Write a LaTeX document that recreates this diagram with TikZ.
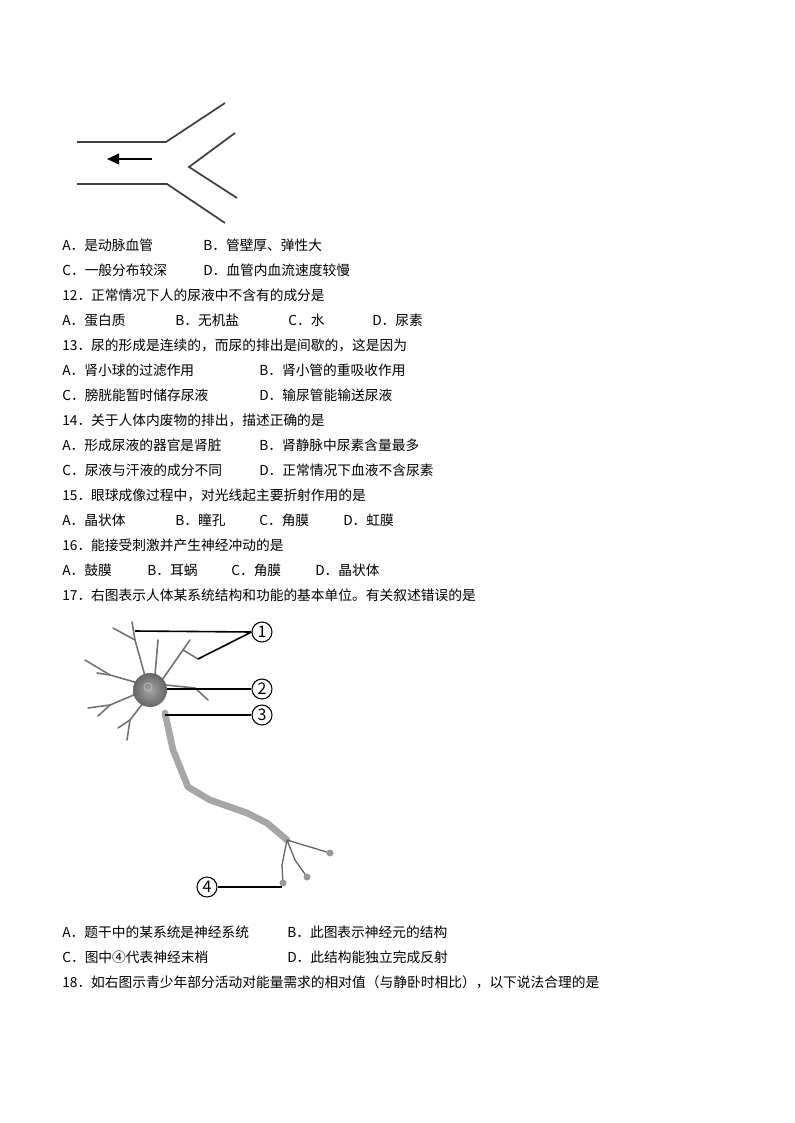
\documentclass[tikz,border=0pt]{standalone}
\usepackage{fontspec}
\setmainfont{Noto Sans CJK SC}
\usetikzlibrary{arrows.meta}
\begin{document}
\begin{tikzpicture}[x=0.75pt,y=-0.75pt,
  txt/.style={anchor=base west,inner sep=0pt,font=\fontsize{10.3}{12}\selectfont},
  num/.style={circle,draw,line width=0.8pt,inner sep=0pt,minimum size=15pt,font=\fontsize{12}{12}\selectfont},
  ln/.style={line width=1.2pt},
  vessel/.style={line width=1.3pt,draw=black!75},
  dend/.style={draw=black!55,line width=1.2pt,line cap=round}]
\useasboundingbox (0,0) rectangle (794,1123);
% vessel figure
\draw[vessel] (77,142) -- (166,142) -- (225,103);
\draw[vessel] (77,184) -- (167,184) -- (225,223);
\draw[vessel] (235,133) -- (189,167) -- (237,198);
\draw[line width=1.3pt,-{Triangle[length=9pt,width=8pt]}] (152,159) -- (107,159);
% text
\begin{scope}[yshift=-4pt]
\foreach \y/\a/\b in {245/{A．是动脉血管}/{B．管壁厚、弹性大},270/{C．一般分布较深}/{D．血管内血流速度较慢}}
 {\node[txt] at (62,\y) {\a}; \node[txt] at (203,\y) {\b};}
\node[txt] at (62,295) {12．正常情况下人的尿液中不含有的成分是};
\node[txt] at (62,320) {A．蛋白质}; \node[txt] at (175,320) {B．无机盐};
\node[txt] at (288,320) {C．水}; \node[txt] at (372,320) {D．尿素};
\node[txt] at (62,345) {13．尿的形成是连续的，而尿的排出是间歇的，这是因为};
\node[txt] at (62,370) {A．肾小球的过滤作用}; \node[txt] at (259,370) {B．肾小管的重吸收作用};
\node[txt] at (62,395) {C．膀胱能暂时储存尿液}; \node[txt] at (259,395) {D．输尿管能输送尿液};
\node[txt] at (62,420) {14．关于人体内废物的排出，描述正确的是};
\node[txt] at (62,445) {A．形成尿液的器官是肾脏}; \node[txt] at (259,445) {B．肾静脉中尿素含量最多};
\node[txt] at (62,470) {C．尿液与汗液的成分不同}; \node[txt] at (259,470) {D．正常情况下血液不含尿素};
\node[txt] at (62,495) {15．眼球成像过程中，对光线起主要折射作用的是};
\node[txt] at (62,520) {A．晶状体}; \node[txt] at (175,520) {B．瞳孔};
\node[txt] at (259,520) {C．角膜}; \node[txt] at (343,520) {D．虹膜};
\node[txt] at (62,545) {16．能接受刺激并产生神经冲动的是};
\node[txt] at (62,570) {A．鼓膜}; \node[txt] at (147,570) {B．耳蜗};
\node[txt] at (231,570) {C．角膜}; \node[txt] at (315,570) {D．晶状体};
\node[txt] at (62,595) {17．右图表示人体某系统结构和功能的基本单位。有关叙述错误的是};
\node[txt] at (62,932) {A．题干中的某系统是神经系统}; \node[txt] at (287,932) {B．此图表示神经元的结构};
\node[txt] at (62,957) {C．图中④代表神经末梢}; \node[txt] at (287,957) {D．此结构能独立完成反射};
\node[txt] at (62,982) {18．如右图示青少年部分活动对能量需求的相对值（与静卧时相比），以下说法合理的是};
\end{scope}
% neuron dendrites
\draw[dend] (145,676) -- (135,640) -- (132,622);
\draw[dend] (135,640) -- (113,628);
\draw[dend] (155,675) -- (158,640);
\draw[dend] (162,680) -- (183,650) -- (198,659);
\draw[dend] (183,650) -- (190,640);
\draw[dend] (166,685) -- (195,688) -- (208,700);
\draw[dend] (138,683) -- (110,675) -- (85,660);
\draw[dend] (110,675) -- (97,673);
\draw[dend] (136,694) -- (110,705) -- (88,708);
\draw[dend] (110,705) -- (98,716);
\draw[dend] (143,703) -- (130,720) -- (127,740);
\draw[dend] (130,720) -- (118,728);
% axon
\draw[draw=black!35,line width=5pt,line cap=round,line join=round]
  (165,713) -- (173,750) -- (188,787) -- (210,800) -- (247,813) -- (267,823) -- (287,840);
\draw[draw=black!60,line width=1pt] (287,840) -- (330,853);
\draw[draw=black!60,line width=1pt] (287,840) -- (295,860) -- (307,877);
\draw[draw=black!60,line width=1pt] (287,840) -- (282,865) -- (283,883);
\foreach \p in {(330,853),(307,877),(283,883)} \fill[black!40] \p circle (3.5);
% soma
\shade[inner color=black!35,outer color=black!60] (150,690) circle (17);
\draw[black!30,line width=0.8pt] (148,687) circle (4);
% labels
\node[num] (n1) at (262,632) {1};
\node[num] (n2) at (262,689) {2};
\node[num] (n3) at (262,715) {3};
\node[num] (n4) at (207,887) {4};
\coordinate (a1) at (135,631); \coordinate (b1) at (198,659);
\draw[ln] (a1) -- (n1.west); \draw[ln] (b1) -- (n1.west);
\draw[ln] (167,689) -- (n2.west);
\draw[ln] (165,715) -- (n3.west);
\draw[ln] (n4.east) -- (282,887);
\end{tikzpicture}
\end{document}
